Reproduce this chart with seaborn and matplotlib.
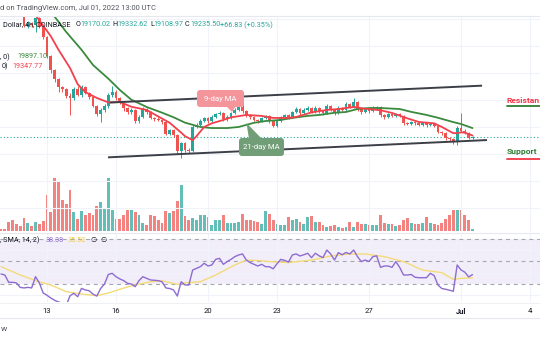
import numpy as np
import pandas as pd
import matplotlib
matplotlib.use("Agg")
import matplotlib.pyplot as plt
import matplotlib.dates as mdates
from matplotlib.lines import Line2D
from matplotlib.patches import FancyBboxPatch, Polygon
from matplotlib.transforms import IdentityTransform
import seaborn as sns

# ---------------- data: BTC/USD 4h, Coinbase ----------------
start_time = "2022-06-11 00:00"
first_open = 29400
closes = [29250, 29050, 28700, 28450, 28400, 28350, 27460, 27610, 27530, 28050,
          27390, 26640, 25240, 24200, 23530, 22940, 22790, 22270, 22130, 22790,
          22350, 22940, 22500, 22200, 21530, 20940, 21240, 21530, 22350, 22570,
          22130, 21760, 21390, 21090, 21240, 20420, 20720, 21310, 21090, 20650,
          20570, 20500, 20350, 19460, 19760, 19390, 18200, 18790, 18270, 18200,
          19980, 20130, 20420, 20650, 20420, 20720, 20940, 21020, 20570, 20720,
          21020, 21240, 21460, 21160, 20870, 20720, 20500, 20420, 20650, 20790,
          20420, 20050, 20420, 20720, 20870, 20720, 21090, 21310, 21020, 21240,
          21390, 21090, 21390, 21160, 21020, 21530, 21240, 21020, 21390, 21240,
          21680, 21460, 21830, 21310, 21090, 21310, 21160, 21390, 21460, 20870,
          20720, 20940, 20790, 20940, 20790, 20270, 20200, 20350, 20270, 20130,
          20240, 20130, 20200, 20050, 19610, 19530, 19160, 19090, 18940, 19940,
          19680, 19530, 19170.02, 19235.50]
highs = [29500, 29300, 29100, 28800, 28650, 28600, 28450, 27800, 27750, 28150,
         28150, 27450, 26700, 25300, 24300, 23600, 23050, 22900, 22500, 22950,
         23000, 23100, 23000, 22600, 22300, 21600, 21350, 21650, 22500, 23020,
         22700, 22200, 21850, 21450, 21350, 21300, 20850, 21450, 21400, 21150,
         20750, 20700, 20600, 20400, 19850, 19800, 19450, 18900, 18850, 18400,
         20100, 20250, 20550, 20750, 20700, 20850, 21050, 21150, 21100, 20850,
         21100, 21350, 21900, 22050, 21250, 20950, 20800, 20600, 20750, 20900,
         20850, 20500, 20550, 20800, 20950, 20950, 21200, 21450, 21400, 21350,
         21500, 21450, 21500, 21450, 21250, 21650, 21600, 21300, 21500, 21450,
         21800, 21750, 22130, 21900, 21350, 21400, 21350, 21500, 21550, 21500,
         20950, 21050, 21000, 21050, 21000, 20850, 20350, 20450, 20400, 20350,
         20350, 20300, 20300, 20300, 20150, 19700, 19600, 19250, 19150, 20050,
         21010, 19800, 19600, 19332.62]
lows = [29100, 28950, 28600, 28350, 28300, 28250, 27350, 27300, 27400, 27000,
        27300, 26500, 25100, 24000, 23300, 22570, 22550, 22100, 20870, 21950,
        22250, 22200, 22400, 22050, 21450, 20800, 20350, 21100, 21400, 22200,
        22000, 21650, 21200, 20950, 20950, 20300, 20300, 20650, 20950, 20550,
        20450, 20400, 20200, 19350, 19350, 19250, 18050, 17680, 18150, 18050,
        18150, 19900, 20050, 20350, 20300, 20350, 20650, 20850, 20450, 20450,
        20600, 20950, 21150, 21050, 20750, 20600, 20400, 20300, 20350, 20550,
        20300, 19950, 19950, 20350, 20650, 20600, 20650, 21000, 20900, 20950,
        21150, 21000, 21000, 21050, 20900, 20950, 21150, 20900, 20950, 21150,
        21150, 21350, 21400, 21200, 20950, 21000, 21050, 21100, 21300, 20750,
        20600, 20650, 20700, 20700, 20700, 20150, 20100, 20100, 20150, 20050,
        20050, 20000, 20050, 19950, 19500, 19400, 19050, 18950, 18700, 18650,
        19600, 19450, 19100, 19108.97]
volumes = [1890, 1400, 6510, 7700, 5390, 3710, 9310, 6090, 3710, 6510,
           4900, 7000, 25200, 13510, 37100, 35000, 21700, 18900, 29190, 13510,
           8890, 14000, 11200, 13090, 11200, 17710, 20510, 15890, 37100, 15190,
           8400, 8400, 11200, 15190, 15190, 13510, 11200, 5810, 4690, 11200,
           10500, 7700, 5810, 14000, 12810, 14000, 21000, 32200, 10500, 7700,
           9310, 7700, 11200, 11690, 10010, 4690, 7700, 7700, 11690, 5810,
           5810, 5810, 6510, 12390, 8190, 7700, 7210, 6510, 5390, 14210,
           12390, 8190, 5390, 4690, 4690, 10010, 7700, 8890, 6510, 5390,
           10010, 10500, 6510, 6510, 4200, 3010, 3500, 4690, 3010, 2590,
           3010, 6510, 3010, 6300, 5390, 5390, 4200, 4690, 4690, 11200,
           6090, 5110, 5390, 3710, 4690, 7700, 9310, 5810, 5390, 5390,
           5810, 10010, 5810, 5390, 4690, 6090, 8890, 11200, 15190, 15190,
           14700, 11200, 7700, 1890]
rsi = [38.9, 38.0, 31.5, 31.5, 31.0, 27.0, 26.5, 27.0, 26.5, 36.5,
       31.0, 22.0, 20.0, 17.5, 15.5, 14.0, 13.0, 11.0, 19.5, 21.7,
       18.7, 26.1, 24.7, 24.0, 21.0, 19.3, 26.0, 30.0, 38.5, 39.5,
       36.5, 34.5, 33.0, 30.6, 30.0, 27.6, 33.0, 36.5, 35.0, 33.6,
       33.3, 33.0, 32.0, 26.5, 26.0, 24.7, 19.3, 32.0, 29.1, 29.1,
       42.4, 43.9, 45.4, 48.4, 46.0, 46.9, 51.9, 52.8, 47.5, 49.9,
       51.9, 54.3, 55.8, 56.7, 51.3, 49.0, 47.5, 46.0, 47.5, 45.4,
       45.4, 43.5, 48.0, 51.9, 51.0, 49.5, 55.8, 56.7, 54.9, 56.0,
       57.3, 53.4, 57.3, 55.0, 53.5, 60.2, 56.7, 51.3, 57.9, 56.0,
       58.0, 56.7, 60.2, 54.3, 49.9, 51.3, 50.0, 54.3, 55.0, 44.8,
       46.0, 46.0, 44.8, 49.9, 44.8, 38.0, 38.0, 38.5, 36.0, 35.6,
       35.6, 35.6, 39.5, 37.5, 29.0, 26.0, 25.3, 24.5, 23.5, 46.9,
       42.5, 40.5, 36.3, 38.38]
rsi_sma_idx = [0, 5, 10, 13, 17, 21, 25, 28, 32, 35, 39, 42, 46, 48, 52, 56,
               61, 64, 68, 70, 75, 81, 86, 91, 95, 100, 105, 110, 115, 118, 120, 123]
rsi_sma = [45.4, 38.0, 31.8, 29.1, 23.2, 21.1, 19.6, 22.0, 26.4, 29.1, 32.0,
           32.9, 29.7, 31.0, 32.0, 38.0, 46.9, 51.3, 50.7, 49.9, 49.0, 51.3,
           54.9, 56.7, 56.7, 54.3, 49.9, 42.4, 40.1, 34.1, 35.0, 35.52]
ma9_idx = [6, 9, 13, 15, 18, 20, 22, 25, 28, 31, 34, 38, 41, 44, 47, 48, 50, 51,
           53, 55, 58, 60, 64, 68, 71, 75, 77, 81, 85, 88, 92, 95, 99, 102, 106,
           109, 113, 115, 118, 119, 120, 121, 123]
ma9 = [29300, 28270, 26700, 25700, 24350, 23150, 22560, 22130, 21800, 21830,
       21480, 21240, 20760, 20290, 19560, 19300, 19000, 19300, 19980, 20250,
       20500, 20690, 20870, 20800, 20650, 20650, 20720, 21060, 21240, 21310,
       21460, 21330, 21220, 21020, 20620, 20350, 20250, 19980, 19520, 19530,
       19580, 19560, 19347.77]
ma21_idx = [10, 14, 17, 21, 24, 28, 31, 34, 38, 42, 45, 48, 52, 55, 59, 62, 66,
            69, 73, 76, 80, 83, 87, 90, 93, 96, 99, 104, 107, 111, 114, 118, 120, 123]
ma21 = [29300, 28150, 27020, 25700, 24570, 23560, 22720, 22000, 21460, 21040,
        20700, 20300, 19980, 19900, 19900, 19980, 20290, 20420, 20500, 20650,
        20800, 20870, 21030, 21090, 21310, 21385, 21385, 21310, 21100, 20870,
        20660, 20340, 20200, 19897.10]
upper_channel_dates = ["2022-06-15 17:45", "2022-07-01 22:00"]
upper_channel = [21790, 23040]
lower_channel_dates = ["2022-06-15 15:40", "2022-07-02 03:10"]
lower_channel = [17730, 19010]
tick_dates = ["2022-06-13", "2022-06-16", "2022-06-20", "2022-06-23",
              "2022-06-27", "2022-07-01", "2022-07-04"]
tick_labels = ["13", "16", "20", "23", "27", "Jul", "4"]
price_grid = [14000, 16000, 18000, 20000, 22000, 24000, 26000, 28000]
rsi_grid = [20, 40, 60]

# ---------------- style ----------------
sns.set_theme(style="white")
plt.rcParams["font.family"] = ["Roboto", "DejaVu Sans"]
UP, DOWN = "#26A69A", "#EF5350"
MA9_C, MA21_C = "#F2404C", "#3A8A3E"
RSI_C, SMA_C = "#8E6BD0", "#F5DB77"
GRID = "#F0F3FA"
TXT = "#131722"
FS = 5.2

W, H = 540, 340
fig = plt.figure(figsize=(W / 100, H / 100), dpi=100)
fig.patch.set_facecolor("white")


def rect(top, bottom):
    return [0, 1 - bottom / H, 1, (bottom - top) / H]


def fx(x):
    return x / W


def fy(y):
    return 1 - y / H


def label(x, y, s, color=TXT, size=FS, **kw):
    fig.text(fx(x), fy(y), s, ha="left", va="center", fontsize=size,
             color=color, **kw)


closes = np.asarray(closes, float)
opens = np.r_[first_open, closes[:-1]]
highs = np.asarray(highs, float)
lows = np.asarray(lows, float)
times = pd.date_range(start_time, periods=len(closes), freq="4h")
t = mdates.date2num(times)
step = t[1] - t[0]
up = closes >= opens
colors = np.where(up, UP, DOWN)

t13 = mdates.date2num(pd.Timestamp("2022-06-13"))
xlim = (t13 - 47 / 23, t13 + 493 / 23)
ticks_t = mdates.date2num(pd.to_datetime(tick_dates))

# volume pane (behind the candles)
axv = fig.add_axes(rect(16, 232))
axv.bar(t, volumes, width=step * 0.75, color=colors, alpha=0.72, linewidth=0)
axv.set_xlim(*xlim)
axv.set_ylim(-490, 150700)
axv.axis("off")

# price pane
ax = fig.add_axes(rect(16, 232))
ax.patch.set_visible(False)
ax.set_xlim(*xlim)
ax.set_ylim(12200, 28200)
for p in price_grid:
    ax.axhline(p, color=GRID, lw=0.8, zorder=0)
for tt in ticks_t:
    ax.axvline(tt, color=GRID, lw=0.8, zorder=0)

ax.vlines(t, lows, highs, colors=colors, lw=0.7, zorder=2)
ax.bar(t, closes - opens, bottom=opens, width=step * 0.72,
       color=colors, linewidth=0, zorder=3)

sns.lineplot(x=t[ma21_idx], y=ma21, ax=ax, color=MA21_C, lw=1.3,
             sort=False, zorder=4)
sns.lineplot(x=t[ma9_idx], y=ma9, ax=ax, color=MA9_C, lw=1.3,
             sort=False, zorder=5)

for d, v in ((upper_channel_dates, upper_channel),
             (lower_channel_dates, lower_channel)):
    ax.plot(mdates.date2num(pd.to_datetime(d)), v, color="#3C3F47",
            lw=1.4, solid_capstyle="butt", zorder=6)

ax.axhline(closes[-1], color=UP, lw=0.8, ls=(0, (1, 2)), zorder=1)
ax.axis("off")

# RSI pane
axr = fig.add_axes(rect(233, 302))
axr.set_xlim(*xlim)
axr.set_ylim(14, 75.33)
axr.axhspan(30, 70, color="#F2EEF9", lw=0, zorder=0)
for g in rsi_grid:
    axr.axhline(g, color=GRID, lw=0.8, zorder=0.5)
for tt in ticks_t:
    axr.axvline(tt, color=GRID, lw=0.8, zorder=0.5)
for lvl in (30, 50, 70):
    axr.axhline(lvl, color="#A3A6AF", lw=0.8, ls=(0, (3.5, 3.5)), zorder=1)
sns.lineplot(x=t[rsi_sma_idx], y=rsi_sma, ax=axr, color=SMA_C, lw=1.0,
             sort=False, zorder=2)
sns.lineplot(x=t, y=rsi, ax=axr, color=RSI_C, lw=1.0, sort=False, zorder=3)
for s in axr.spines.values():
    s.set_visible(False)
axr.set_yticks([])
axr.set_xticks(ticks_t)
axr.set_xticklabels(tick_labels)
axr.tick_params(axis="x", length=0, pad=4, labelsize=5.5, labelcolor=TXT)
axr.get_xticklabels()[tick_labels.index("Jul")].set_fontweight("bold")
axr.set_xlabel("")
axr.set_ylabel("")

# pane separators
for y, c in ((16, "#E6E8EF"), (232.5, "#E6E8EF"), (302.5, "#EEF0F4"), (318, "#E6E8EF")):
    fig.add_artist(Line2D([0, 1], [fy(y), fy(y)], color=c, lw=0.8))

# header / legend texts
label(0.5, 8, "d on TradingView.com, Jul 01, 2022 13:00 UTC", "#50535E", 5.4)
row = 25
label(3, row, "Dollar, 4h, COINBASE")
ohlc = [("O", 76, "19170.02", 80.5), ("H", 112.5, "19332.62", 117),
        ("L", 150, "19108.97", 153.5), ("C", 185, "19235.50", 190)]
for k, kx, v, vx in ohlc:
    label(kx, row, k)
    label(vx, row, v, UP)
label(220, row, "+66.83 (+0.35%)", UP)

label(0.5, 57, ", 0)")
label(17, 57, f"{ma21[-1]:.2f}", MA21_C)
label(1.5, 66, "0)")
label(12.5, 66, f"{ma9[-1]:.2f}", MA9_C)

label(0.5, 240, ", SMA, 14, 2)")
label(46, 240, f"{rsi[-1]:.2f}", RSI_C)
label(68, 240, f"{rsi_sma[-1]:.2f}", "#EBCB4F")
for x0 in (90, 100):
    label(x0, 240, "\u2205", family="DejaVu Sans")

label(1, 329, "w", "#50535E", 6.0)

# MA call-out boxes
pix = IdentityTransform()


def callout(x0, y0, x1, y1, tail, face, text):
    fig.patches.append(Polygon([(x, H - y) for x, y in tail], closed=True,
                               fc=face, ec="none", transform=pix))
    fig.patches.append(FancyBboxPatch((x0, H - y1), x1 - x0, y1 - y0,
                                      boxstyle="round,pad=0,rounding_size=3",
                                      fc=face, ec="none", transform=pix))
    fig.text(fx((x0 + x1) / 2), fy((y0 + y1) / 2), text, ha="center",
             va="center", fontsize=5.6, color="white")


callout(197, 90, 244, 107, [(226, 106), (236, 106), (232, 112)],
        "#F4959C", "9-day MA")
callout(239, 138, 284, 156, [(246.5, 123), (249, 139), (262, 139)],
        "#729E77", "21-day MA")

# support / resistance tags (the resistance word runs into the right edge)
label(506.5, 100, "Resistan", "#F23645", 6.1, fontweight="bold")
fig.add_artist(Line2D([fx(507), 1], [fy(106), fy(106)], color="#2E7D32", lw=1.3))
label(506.5, 151.5, "Support", "#2E7D32", 6.1, fontweight="bold")
fig.add_artist(Line2D([fx(507), 1], [fy(159), fy(159)], color="#F23645", lw=1.3))

fig.savefig("out.png", dpi=100)
